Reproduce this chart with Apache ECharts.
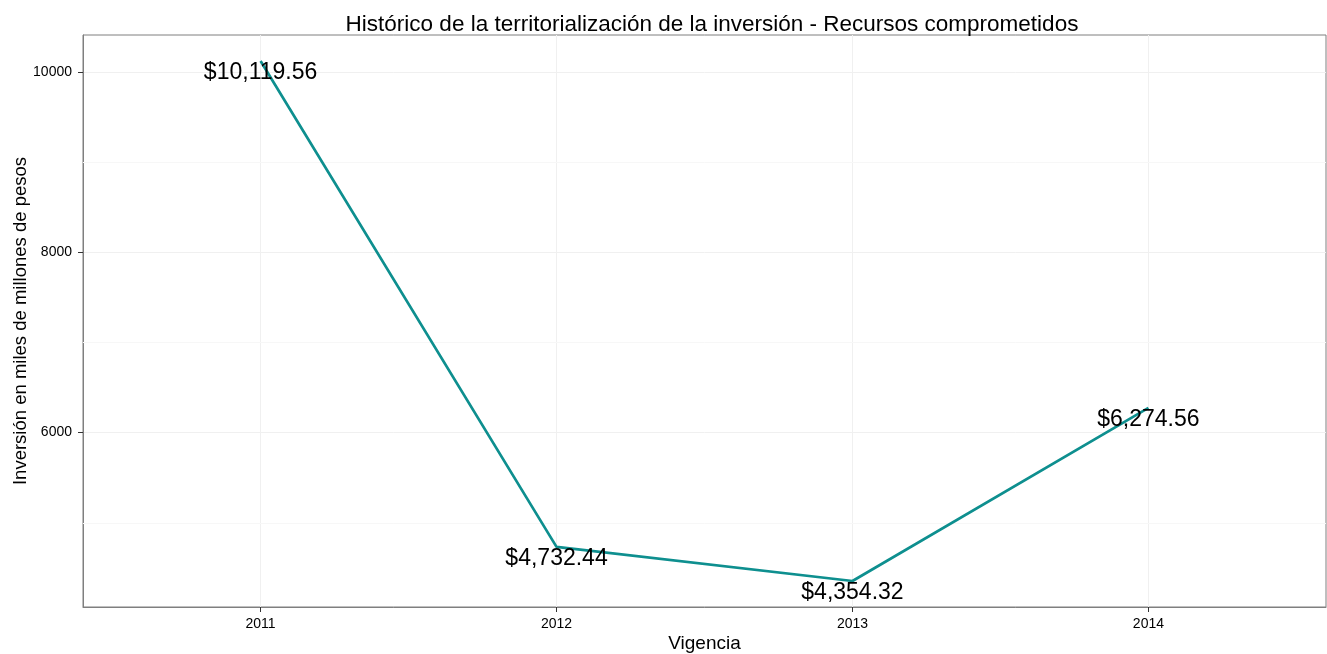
<!DOCTYPE html>
<head>
    <meta charset="utf-8">
    <title>ECharts</title>
    <style>
        html, body { margin: 0; padding: 0; background: #fff; }
        #main { width: 1327px; height: 654px; }
    </style>
</head>
<body>
<div id="main"></div>

<script src="https://cdn.jsdelivr.net/npm/echarts@6/dist/echarts.min.js"></script>
<script type="text/javascript">
    // datos
    var years = [2011, 2012, 2013, 2014];
    var values = [10119.56, 4732.44, 4354.32, 6274.56];
    var yTicks = [6000, 8000, 10000];
    var yMinor = [5000, 7000, 9000];

    var font = 'Liberation Sans, Arial, sans-serif';
    var lo = Math.min.apply(null, values), hi = Math.max.apply(null, values);
    var pad = (hi - lo) * 0.05;

    var chart = echarts.init(document.getElementById('main'));
    chart.setOption({
        backgroundColor: '#fff',
        animation: false,
        title: {
            text: 'Histórico de la territorialización de la inversión - Recursos comprometidos',
            left: 707,
            textAlign: 'center',
            top: 8,
            textStyle: { fontFamily: font, fontSize: 22.5, fontWeight: 'normal', color: '#000' }
        },
        grid: {
            left: 83, right: 1, top: 35, bottom: 47,
            outerBoundsMode: 'none',
            containLabel: false,
            show: true, borderColor: '#7f7f7f', borderWidth: 1, backgroundColor: '#fff'
        },
        xAxis: {
            type: 'value',
            min: 2010.4,
            max: 2014.6,
            name: 'Vigencia',
            nameLocation: 'middle',
            nameGap: 27,
            nameMoveOverlap: false,
            nameTextStyle: { fontFamily: font, fontSize: 19, color: '#000' },
            axisLine: { show: true, lineStyle: { color: '#7f7f7f', width: 1 } },
            axisTick: { show: true, length: 5, customValues: years, lineStyle: { color: '#333', width: 1 } },
            axisLabel: { customValues: years, margin: 10, fontFamily: font, fontSize: 14, color: '#000',
                formatter: function (v) { return String(v); } },
            splitLine: { show: true, lineStyle: { color: '#f0f0f0', width: 1 } }
        },
        yAxis: {
            type: 'value',
            min: lo - pad,
            max: hi + pad,
            name: 'Inversión en miles de millones de pesos',
            nameLocation: 'middle',
            nameGap: 53,
            nameMoveOverlap: false,
            nameTextStyle: { fontFamily: font, fontSize: 18.5, color: '#000' },
            axisLine: { show: true, lineStyle: { color: '#7f7f7f', width: 1 } },
            axisTick: { show: true, length: 5, customValues: yTicks, lineStyle: { color: '#333', width: 1 } },
            axisLabel: { customValues: yTicks, margin: 11, fontFamily: font, fontSize: 14, color: '#000',
                formatter: function (v) { return String(v); } },
            splitLine: { show: true, lineStyle: { color: '#f0f0f0', width: 1 } }
        },
        series: [
            {
                type: 'line',
                data: years.map(function (y, i) { return [y, values[i]]; }),
                symbol: 'circle',
                symbolSize: 0.1,
                showSymbol: true,
                lineStyle: { color: '#0e8f8f', width: 2.7 },
                itemStyle: { color: '#0e8f8f' },
                label: {
                    show: true,
                    position: 'inside',
                    offset: [0, 11.5],
                    fontFamily: font,
                    fontSize: 23,
                    color: '#000',
                    formatter: function (p) {
                        return '$' + p.value[1].toLocaleString('en-US', { minimumFractionDigits: 2, maximumFractionDigits: 2 });
                    }
                },
                markLine: {
                    silent: true,
                    z: 1,
                    symbol: 'none',
                    label: { show: false },
                    lineStyle: { color: '#f7f7f7', type: 'solid', width: 1 },
                    data: yMinor.map(function (v) { return { yAxis: v }; })
                }
            }
        ]
    });
</script>
</body>
